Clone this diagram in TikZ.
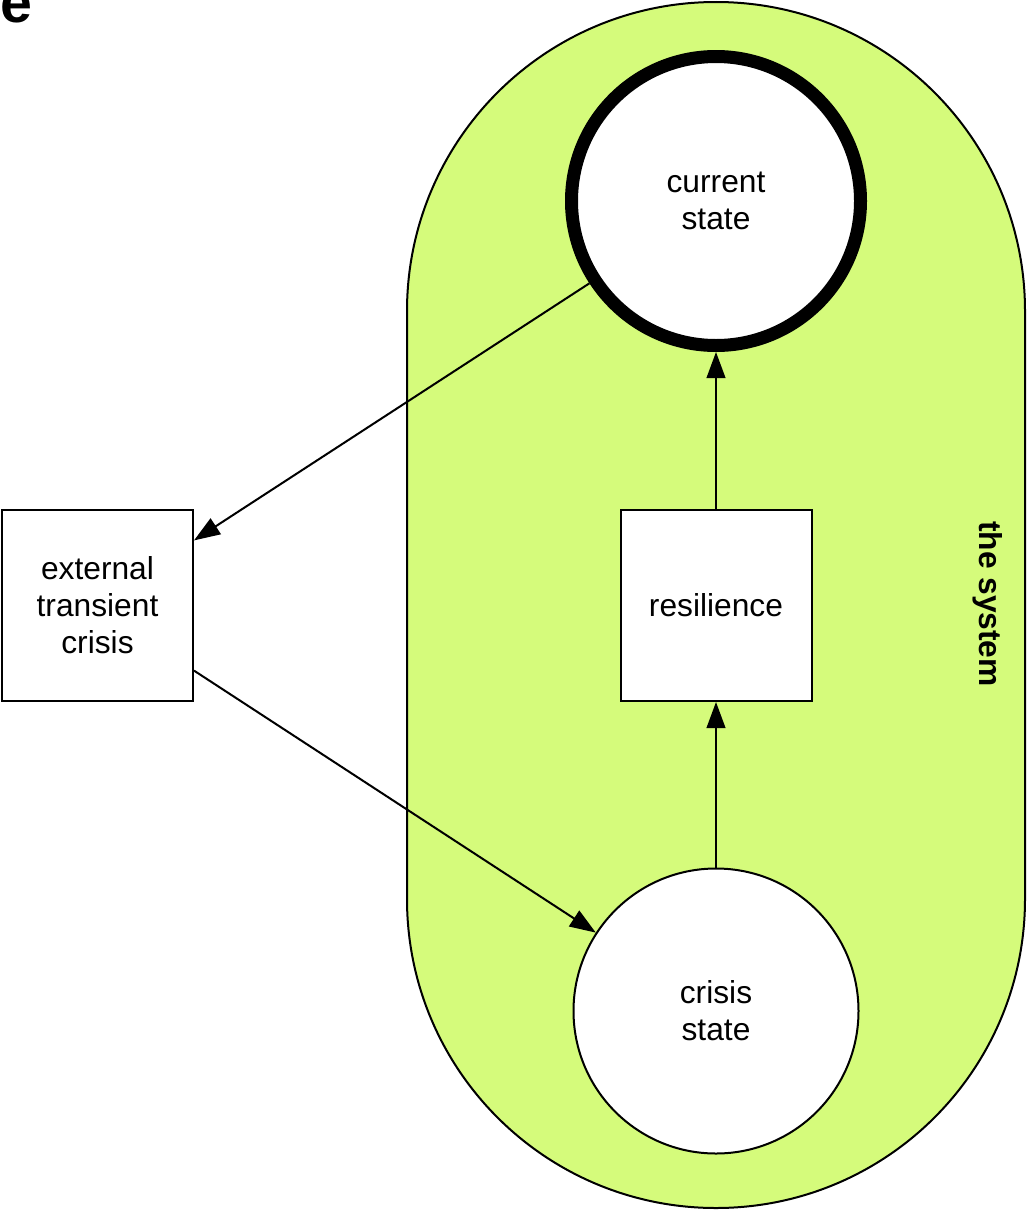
\documentclass[tikz,border=0pt]{standalone}
\usepackage{fontspec}
\setmainfont{Liberation Sans}
\usetikzlibrary{arrows.meta}
\definecolor{syslime}{RGB}{213,251,123}

\begin{document}
\begin{tikzpicture}[x=0.75pt, y=-0.75pt,
    state/.style={draw, circle, fill=white, inner sep=0pt,
                  align=center, font=\fontsize{23.8}{27.75}\selectfont},
    box/.style={draw, fill=white, line width=1.5pt, minimum size=143.25pt,
                inner sep=0pt, align=center, font=\fontsize{23.8}{27.75}\selectfont},
    link/.style={-{Triangle[length=19.5pt,width=14pt]}, line width=1.5pt}]

  \useasboundingbox (0,0) rectangle (1028,1210);

  \node[font=\fontsize{43}{43}\selectfont\bfseries, anchor=base west, inner sep=0pt] (P) at (0,22) {e};

  % the system
  \draw[fill=syslime, line width=1.5pt, rounded corners=231.75pt] (407,2) rectangle (1025,1208);
  \node[rotate=-90, font=\fontsize{23.8}{27.75}\selectfont\bfseries] (T) at (988,604) {the system};

  \node[state, line width=9.75pt, minimum size=216.75pt] (C) at (716,201) {current\\state};
  \node[state, line width=1.5pt, minimum size=213.75pt]  (S) at (716,1011) {crisis\\state};
  \node[box] (R) at (716,605.5)  {resilience};
  \node[box] (E) at (97.5,605.5) {external\\transient\\crisis};

  \draw[link] (C) -- (E.34);
  \draw[link] (E.-34) -- (S);
  \draw[link] (S) -- (R);
  \draw[link] (R) -- (C);
\end{tikzpicture}
\end{document}
